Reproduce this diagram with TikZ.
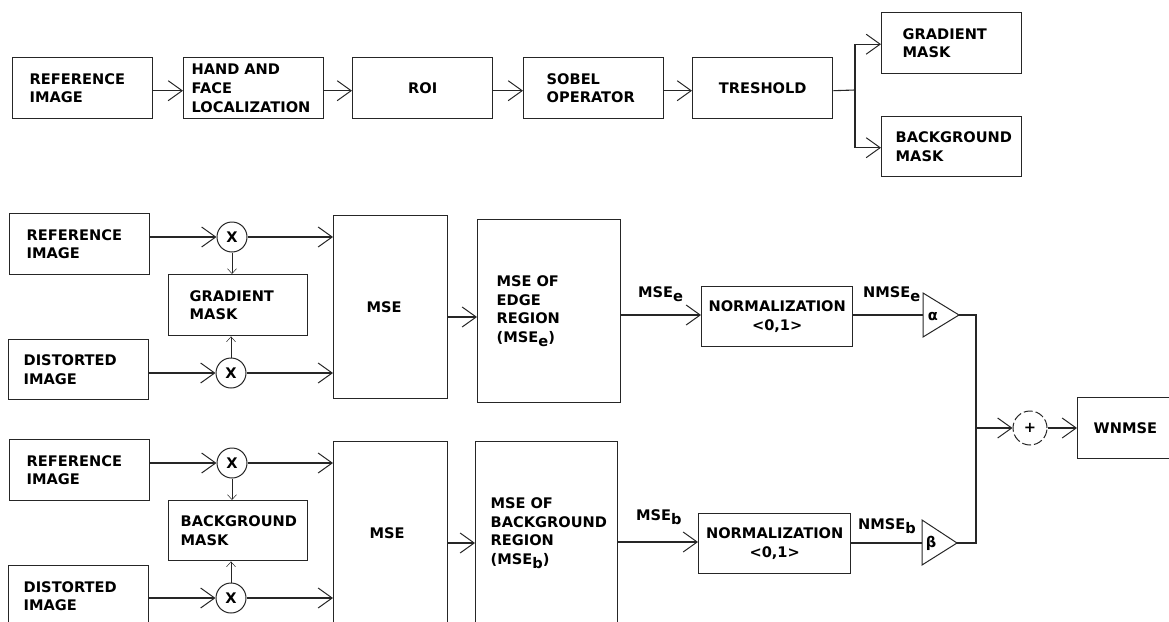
\documentclass[tikz,border=0pt]{standalone}
\usepackage{fontspec}
\setmainfont{DejaVu Sans}
\usetikzlibrary{arrows.meta}
\newcommand{\lbl}{\fontsize{14.6}{18.6}\selectfont\bfseries}
\newcommand{\subl}[1]{\raisebox{-4pt}{#1}}
\colorlet{linec}{black!85}
\tikzset{
  blk/.style={draw=linec, line width=1.4pt, rectangle, anchor=north west, inner ysep=0pt, align=left, font=\lbl, text=black},
  cblk/.style={draw=linec, line width=1.4pt, rectangle, anchor=north west, inner sep=0pt, align=center, font=\lbl, text=black},
  xnode/.style={draw=linec, line width=1pt, circle, minimum size=30pt, inner sep=0pt, font=\lbl},
  arr/.style={draw=linec, line width=1.1pt, -{Straight Barb[length=14pt,width=20pt,line width=1pt]}},
  conn/.style={draw=linec, line width=1.1pt},
  maskarr/.style={draw=linec, line width=0.9pt, -{Straight Barb[length=5pt,width=9pt,line width=0.5pt]}},
  lab/.style={font=\lbl, inner sep=0pt, anchor=base west},
  tri/.style={draw=linec, line width=1pt},
}
\begin{document}
\begin{tikzpicture}[x=1pt,y=-1pt]
\useasboundingbox (0,0) rectangle (1169,621);
% ---------- top row ----------
\node[blk, minimum width=140pt, minimum height=61pt, inner xsep=17pt, text width=106pt] (ref0) at (12,57) {REFERENCE\\IMAGE};
\node[blk, minimum width=140pt, minimum height=61pt, inner xsep=8pt, text width=124pt] (hand) at (183,57) {HAND AND\\FACE\\LOCALIZATION};
\node[cblk, minimum width=140pt, minimum height=61pt] (roi) at (352,57) {ROI};
\node[blk, minimum width=140pt, minimum height=61pt, inner xsep=23pt, text width=94pt] (sobel) at (523,57) {SOBEL\\OPERATOR};
\node[cblk, minimum width=140pt, minimum height=61pt] (tresh) at (692,57) {TRESHOLD};
\node[blk, minimum width=140pt, minimum height=61pt, inner xsep=21pt, text width=98pt] (gmask0) at (881,12) {GRADIENT\\MASK};
\node[blk, minimum width=140pt, minimum height=60pt, inner xsep=14pt, text width=112pt] (bmask0) at (881,116) {BACKGROUND\\MASK};
\draw[arr] ([yshift=-2.5pt]ref0.east) -- ([yshift=-2.5pt]hand.west);
\draw[arr] ([yshift=-2.5pt]hand.east) -- ([yshift=-2.5pt]roi.west);
\draw[arr] ([yshift=-2.5pt]roi.east) -- ([yshift=-2.5pt]sobel.west);
\draw[arr] ([yshift=-2.5pt]sobel.east) -- ([yshift=-2.5pt]tresh.west);
\coordinate (br) at (855,90);
\draw[conn] ([yshift=-2.5pt]tresh.east) -- (br);
\draw[arr] (br) |- ([yshift=-1pt]gmask0.west);
\draw[arr] (br) |- ([yshift=-1pt]bmask0.west);
% ---------- edge branch ----------
\node[blk, minimum width=140pt, minimum height=61pt, inner xsep=17pt, text width=106pt] (refA) at (9,213) {REFERENCE\\IMAGE};
\node[blk, minimum width=140pt, minimum height=60pt, inner xsep=15pt, text width=110pt] (disA) at (8,339) {DISTORTED\\IMAGE};
\node[xnode] (xA1) at (232,237) {X};
\node[xnode] (xA2) at (231,373) {X};
\node[blk, minimum width=139pt, minimum height=61pt, inner xsep=21pt, text width=97pt] (gmA) at (168,274) {GRADIENT\\MASK};
\node[blk, minimum width=114pt, minimum height=183pt, inner xsep=33pt, text width=48pt] (mseA) at (333,215) {MSE};
\node[blk, minimum width=143pt, minimum height=183pt, inner xsep=19pt, text width=105pt] (edgeA) at (477,219) {MSE OF\\EDGE\\REGION\\(MSE\subl{e})};
\node[cblk, minimum width=151pt, minimum height=60pt] (normA) at (701,286) {NORMALIZATION\\{<}0,1{>}};
\draw[arr] (refA.east |- xA1.west) -- (xA1.west);
\draw[arr] (xA1.east) -- (xA1.east -| mseA.west);
\draw[arr] (disA.east |- xA2.west) -- (xA2.west);
\draw[arr] (xA2.east) -- (xA2.east -| mseA.west);
\draw[maskarr] (xA1.south) -- (xA1.south |- gmA.north);
\draw[maskarr] (xA2.north) -- (xA2.north |- gmA.south);
\coordinate (eA) at (0,317);
\draw[arr] (mseA.east |- eA) -- (edgeA.west |- eA);
\coordinate (eA2) at (0,315);
\draw[arr] (edgeA.east |- eA2) -- (normA.west |- eA2);
\node[lab] (lmseA) at (638,297) {MSE\subl{e}};
% triangle alpha
\coordinate (triAin) at (923,315);
\coordinate (triAtip) at (959,315);
\draw[tri] (923,293) -- (triAtip) -- (923,337) -- cycle;
\node[font=\lbl, inner sep=0pt] (alpha) at (933,316) {α};
\draw[conn] (normA.east |- triAin) -- (triAin);
\node[lab] (lnmseA) at (863,297) {NMSE\subl{e}};
% ---------- background branch ----------
\node[blk, minimum width=140pt, minimum height=61pt, inner xsep=17pt, text width=106pt] (refB) at (9,439) {REFERENCE\\IMAGE};
\node[blk, minimum width=140pt, minimum height=61pt, inner xsep=15pt, text width=110pt] (disB) at (8,565) {DISTORTED\\IMAGE};
\node[xnode] (xB1) at (232,463) {X};
\node[xnode] (xB2) at (231,598) {X};
\node[blk, minimum width=139pt, minimum height=60pt, inner xsep=12pt, text width=115pt] (bmB) at (168,500) {BACKGROUND\\MASK};
\node[blk, minimum width=114pt, minimum height=183pt, inner xsep=36pt, text width=42pt] (mseB) at (333,441) {MSE};
\node[blk, minimum width=142pt, minimum height=183pt, inner xsep=15pt, text width=112pt] (edgeB) at (475,441) {MSE OF\\BACKGROUND\\REGION\\(MSE\subl{b})};
\node[cblk, minimum width=152pt, minimum height=60pt] (normB) at (698,513) {NORMALIZATION\\{<}0,1{>}};
\draw[arr] (refB.east |- xB1.west) -- (xB1.west);
\draw[arr] (xB1.east) -- (xB1.east -| mseB.west);
\draw[arr] (disB.east |- xB2.west) -- (xB2.west);
\draw[arr] (xB2.east) -- (xB2.east -| mseB.west);
\draw[maskarr] (xB1.south) -- (xB1.south |- bmB.north);
\draw[maskarr] (xB2.north) -- (xB2.north |- bmB.south);
\coordinate (eB) at (0,543);
\draw[arr] (mseB.east |- eB) -- (edgeB.west |- eB);
\coordinate (eB2) at (0,542);
\draw[arr] (edgeB.east |- eB2) -- (normB.west |- eB2);
\node[lab] (lmseB) at (636,520) {MSE\subl{b}};
% triangle beta
\coordinate (triBin) at (922,543);
\coordinate (triBtip) at (957,543);
\draw[tri] (922,520) -- (triBtip) -- (922,565) -- cycle;
\node[font=\lbl, inner sep=0pt] (beta) at (931,543) {β};
\draw[conn] (normB.east |- triBin) -- (triBin);
\node[lab] (lnmseB) at (858,529) {NMSE\subl{b}};
% ---------- combination ----------
\coordinate (jtop) at (976,315);
\coordinate (jn) at (976,428);
\draw[conn] (triAtip) -- (jtop) |- (triBtip);
\node[xnode, minimum size=34pt, dash pattern=on 9pt off 3pt] (plus) at (1030,428) {+};
\node[blk, minimum width=100pt, minimum height=61pt, inner xsep=16pt, text width=68pt] (wnmse) at (1077,397) {WNMSE};
\draw[arr] (jn) -- (plus.west);
\draw[arr] (plus.east) -- (plus.east -| wnmse.west);
\end{tikzpicture}
\end{document}
